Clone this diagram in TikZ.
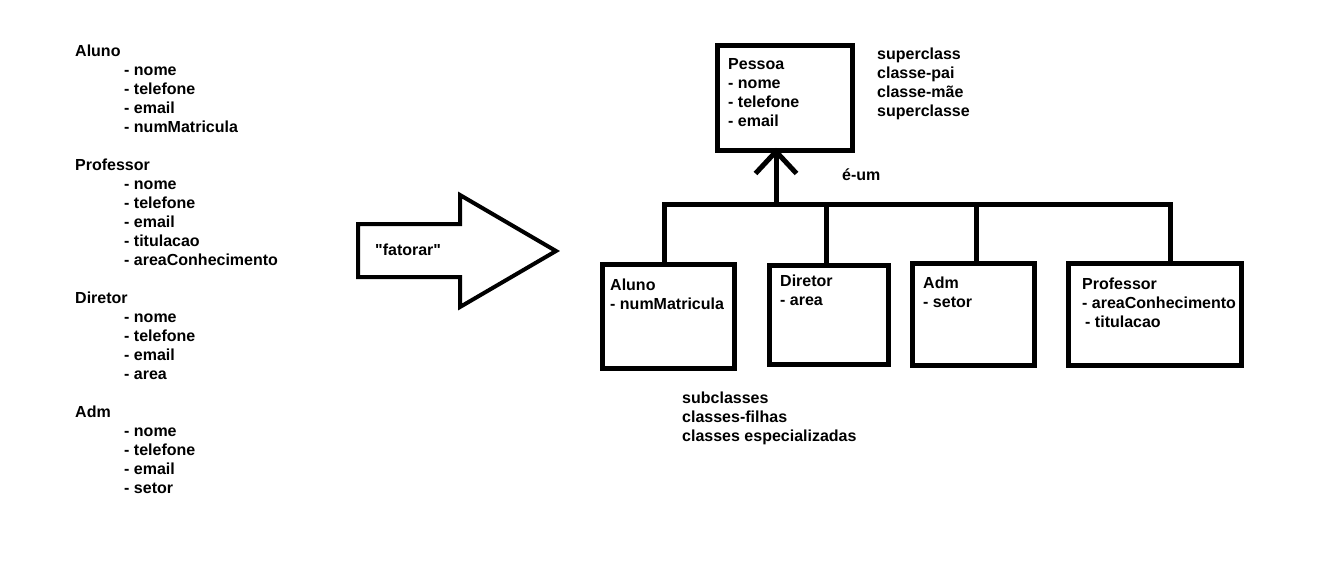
\documentclass[tikz,border=0pt]{standalone}
\usepackage{fontspec}
\newfontfamily\arialfont{Liberation Sans}
\begin{document}
\begin{tikzpicture}[x=1pt,y=-1pt,
  lbl/.style={anchor=base west, inner sep=0pt, font=\arialfont\fontsize{16}{19}\selectfont\bfseries},
  cls/.style={draw, line width=5pt, inner sep=0pt},
  link/.style={line width=5pt},
  fat/.style={line width=4pt, line join=miter}]
\useasboundingbox[fill=white] (0,0) rectangle (1340,568);

% ---------- left list ----------
\node[lbl] (l1) at (75,56) {Aluno};
\node[lbl] (l2) at (124,75) {- nome};
\node[lbl] (l3) at (124,94) {- telefone};
\node[lbl] (l4) at (124,113) {- email};
\node[lbl] (l5) at (124,132) {- numMatricula};
\node[lbl] (l6) at (75,170) {Professor};
\node[lbl] (l7) at (124,189) {- nome};
\node[lbl] (l8) at (124,208) {- telefone};
\node[lbl] (l9) at (124,227) {- email};
\node[lbl] (l10) at (124,246) {- titulacao};
\node[lbl] (l11) at (124,265) {- areaConhecimento};
\node[lbl] (l12) at (75,303) {Diretor};
\node[lbl] (l13) at (124,322) {- nome};
\node[lbl] (l14) at (124,341) {- telefone};
\node[lbl] (l15) at (124,360) {- email};
\node[lbl] (l16) at (124,379) {- area};
\node[lbl] (l17) at (75,417) {Adm};
\node[lbl] (l18) at (124,436) {- nome};
\node[lbl] (l19) at (124,455) {- telefone};
\node[lbl] (l20) at (124,474) {- email};
\node[lbl] (l21) at (124,493) {- setor};

% ---------- big arrow ----------
\draw[fat] (358,224) -- (460,224) -- (460,195) -- (556,251) -- (460,307) -- (460,277) -- (358,277) -- cycle;
\node[lbl] (fat) at (375,255) {"fatorar"};

% ---------- class boxes ----------
\node[cls, minimum width=135pt, minimum height=105pt] (pessoa) at (785,98) {};
\node[cls, minimum width=132pt, minimum height=104pt] (aluno) at (668.5,316.5) {};
\node[cls, minimum width=119pt, minimum height=99pt] (diretor) at (829,315) {};
\node[cls, minimum width=122pt, minimum height=102pt] (adm) at (973.5,314.5) {};
\node[cls, minimum width=173pt, minimum height=102pt] (prof) at (1155,314.5) {};

% box texts
\node[lbl] (p1) at (728,69) {Pessoa};
\node[lbl] (p2) at (728,88) {- nome};
\node[lbl] (p3) at (728,107) {- telefone};
\node[lbl] (p4) at (728,126) {- email};
\node[lbl] (a1) at (610,290) {Aluno};
\node[lbl] (a2) at (610,309) {- numMatricula};
\node[lbl] (d1) at (780,286) {Diretor};
\node[lbl] (d2) at (780,305) {- area};
\node[lbl] (m1) at (923,288) {Adm};
\node[lbl] (m2) at (923,307) {- setor};
\node[lbl] (r1) at (1082,289) {Professor};
\node[lbl] (r2) at (1082,308) {- areaConhecimento};
\node[lbl] (r3) at (1085,327) {- titulacao};

% annotations
\node[lbl] (s1) at (877,59) {superclass};
\node[lbl] (s2) at (877,78) {classe-pai};
\node[lbl] (s3) at (877,97) {classe-mãe};
\node[lbl] (s4) at (877,116) {superclasse};
\node[lbl] (eum) at (842,180) {é-um};
\node[lbl] (c1) at (682,403) {subclasses};
\node[lbl] (c2) at (682,422) {classes-filhas};
\node[lbl] (c3) at (682,441) {classes especializadas};

% ---------- connectors ----------
\coordinate (barL) at (662,204);
\coordinate (barR) at (1172.5,204);
\coordinate (j0) at (776,204);
\coordinate (j1) at (664,204);
\coordinate (j2) at (826,204);
\coordinate (j3) at (976,204);
\coordinate (j4) at (1170,204);
\draw[link] (barL) -- (barR);
\draw[link] (j0) -- (j0 |- pessoa.south);
\coordinate (tip) at ([yshift=1.5pt]j0 |- pessoa.south);
\draw[link] ([shift={(-20.5,22)}]tip) -- (tip) -- ([shift={(20.5,22)}]tip);
\draw[link] (j1) -- (j1 |- aluno.north);
\draw[link] (j2) -- (j2 |- diretor.north);
\draw[link] (j3) -- (j3 |- adm.north);
\draw[link] (j4) -- (j4 |- prof.north);
\end{tikzpicture}
\end{document}
